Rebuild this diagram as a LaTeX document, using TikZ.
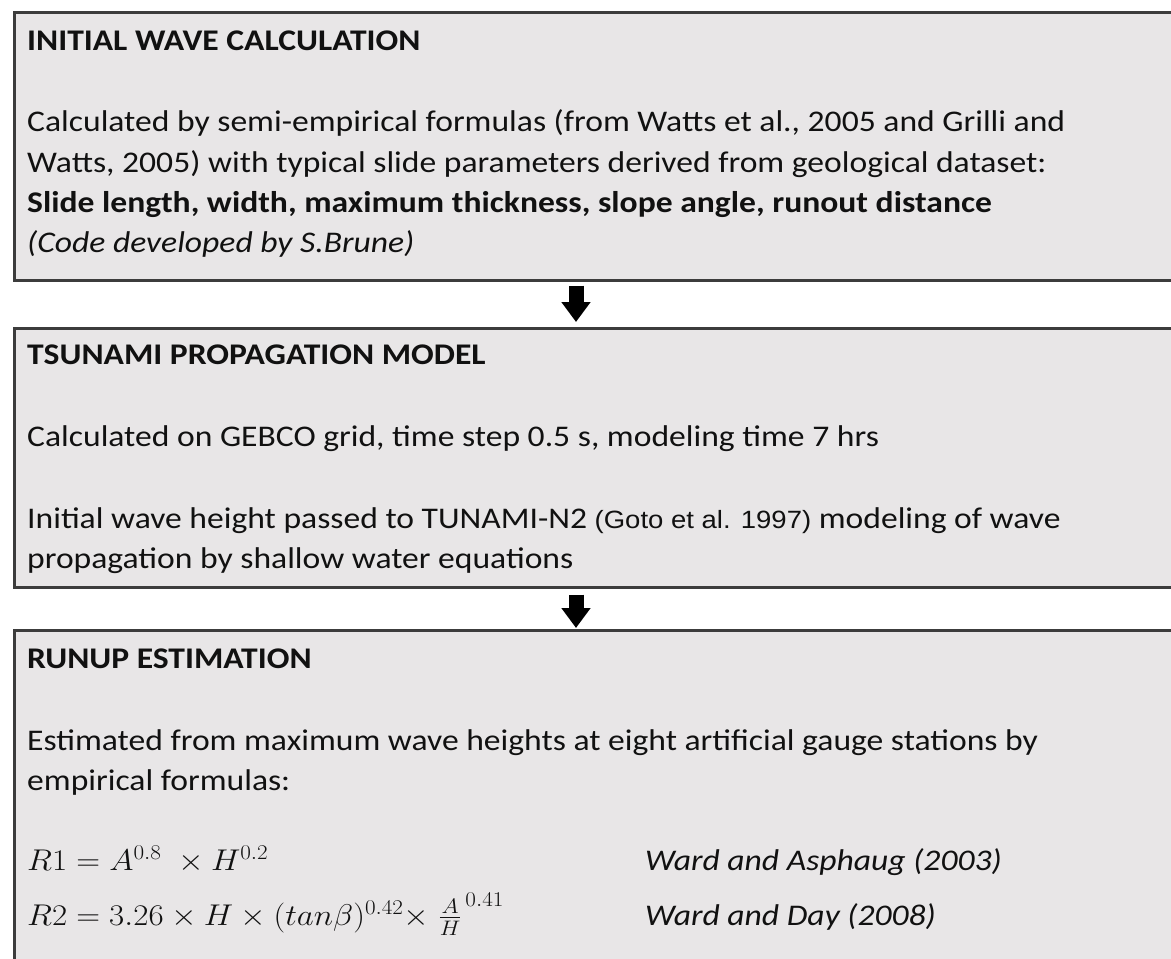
\RequirePackage{fix-cm}
\documentclass[tikz,border=0pt]{standalone}
\usepackage{fontspec}
\usepackage{graphicx}
\setmainfont{Carlito}[FakeStretch=1.12]
\newfontfamily\arialfont{Liberation Sans}[FakeStretch=1.1]
\usetikzlibrary{arrows.meta}
\definecolor{boxfill}{HTML}{E8E6E7}
\definecolor{boxline}{HTML}{3C3C3C}
\definecolor{ink}{HTML}{111111}
\newcommand{\wmath}[1]{\scalebox{1.1}[1]{#1}}
\begin{document}
\begin{tikzpicture}[x=1pt,y=-1pt,
  panel/.style={draw=boxline, line width=2.6pt, fill=boxfill, anchor=north west, inner sep=0pt, minimum width=1170pt},
  txt/.style={anchor=base west, inner sep=0pt, text=ink, font=\fontsize{30}{40}\selectfont},
  flow/.style={line width=15pt, -{Triangle[width=28pt,length=20pt]}, black}]
\useasboundingbox (0,0) rectangle (1171,959);
\clip (0,0) rectangle (1171,959);
\fill[white] (0,0) rectangle (1171,959);
\coordinate (ax) at (576,0);
% boxes
\node[panel, minimum height=268pt] (b1) at (13,11) {};
\node[panel, minimum height=259pt] (b2) at (13,327) {};
\node[panel, minimum height=360pt] (b3) at (13,629) {};
% arrows
\draw[flow] ([yshift=-4pt]b1.south -| ax) -- ([yshift=5pt]b2.north -| ax);
\draw[flow] ([yshift=-6pt]b2.south -| ax) -- ([yshift=1pt]b3.north -| ax);
% box 1 text
\node[txt] (h1) at (27,50) {\bfseries INITIAL WAVE CALCULATION};
\node[txt] (l11) at (27,131) {Calculated by semi-empirical formulas (from Watts et al., 2005 and Grilli and};
\node[txt] (l12) at (27,172) {Watts, 2005) with typical slide parameters derived from geological dataset:};
\node[txt] (l13) at (27,212) {\bfseries Slide length, width, maximum thickness, slope angle, runout distance};
\node[txt] (l14) at (27,252) {\itshape (Code developed by S.Brune)};
% box 2 text
\node[txt] (h2) at (27,364) {\bfseries TSUNAMI PROPAGATION MODEL};
\node[txt] (l21) at (27,446) {Calculated on GEBCO grid, time step 0.5 s, modeling time 7 hrs};
\node[txt] (l22) at (27,528) {Initial wave height passed to TUNAMI-N2 {\arialfont\fontsize{25}{30}\selectfont (Goto et al. 1997)} modeling of wave};
\node[txt] (l23) at (27,568) {propagation by shallow water equations};
% box 3 text
\node[txt] (h3) at (27,668) {\bfseries RUNUP ESTIMATION};
\node[txt] (l31) at (27,750) {Estimated from maximum wave heights at eight artificial gauge stations by};
\node[txt] (l32) at (27,790) {empirical formulas:};
\node[txt] (f1) at (27,870) {\wmath{$R1 = A^{0.8}\;\times H^{0.2}$}};
\node[txt] (f2) at (27,925) {\wmath{$R2 = 3.26\times H\times (tan\beta)^{0.42}{\times}\;{\frac{A}{H}}^{\,0.41}$}};
\node[txt] (c1) at (645,870) {\itshape Ward and Asphaug (2003)};
\node[txt] (c2) at (645,925) {\itshape Ward and Day (2008)};
\end{tikzpicture}
\end{document}
